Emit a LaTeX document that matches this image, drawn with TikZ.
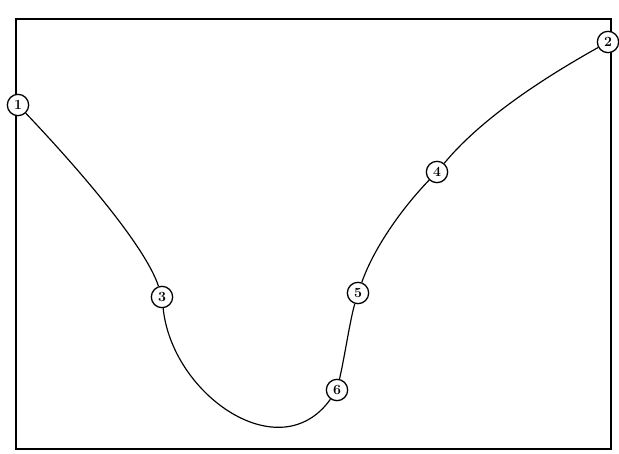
\documentclass[tikz,border=0pt]{standalone}
\usepackage{tikz}
\usetikzlibrary{positioning,calc}

\begin{document}
\begin{tikzpicture}[
    x=0.03cm, y=0.03cm,
    knot/.style  = {circle, draw=black, fill=white, line width=1.1pt,
                    minimum size=0.64cm, inner sep=0pt,
                    font=\large\bfseries},
    frame/.style = {draw=black, line width=0.9pt},
    spline/.style = {draw=black, line width=1pt},
]

\useasboundingbox (0,0) rectangle (619,454);

% ─── Frame ───────────────────────────────────────────────────────────────
\draw[frame] (16,435) rectangle (611,5);

% ─── Knots ───────────────────────────────────────────────────────────────
\node[knot] (k1) at (18,349) {1};
\node[knot] (k2) at (608,412) {2};
\node[knot] (k3) at (162,157) {3};
\node[knot] (k4) at (437,282) {4};
\node[knot] (k5) at (358,161) {5};
\node[knot] (k6) at (337,64)  {6};

% ─── Curve through the knots ─────────────────────────────────────────────
\draw[spline] (k1) .. controls (75,289) and (145,209) .. (k3);
\draw[spline] (k3) .. controls (172,59) and (280,-16) .. (k6);
\draw[spline] (k6) .. controls (345,99) and (350,134) .. (k5);
\draw[spline] (k5) .. controls (375,209) and (405,249) .. (k4);
\draw[spline] (k4) .. controls (480,334) and (540,374) .. (k2);

\end{tikzpicture}
\end{document}
